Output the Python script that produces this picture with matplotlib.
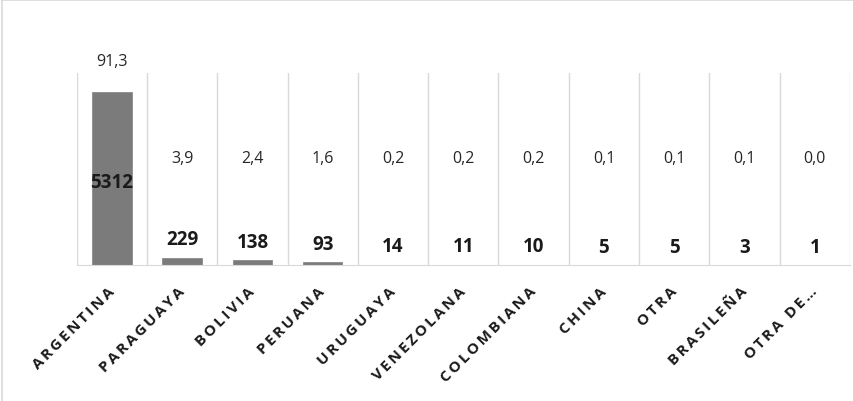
import matplotlib.pyplot as plt
import numpy as np

paises = ["ARGENTINA", "PARAGUAYA", "BOLIVIA", "PERUANA", "URUGUAYA",
          "VENEZOLANA", "COLOMBIANA", "CHINA", "OTRA", "BRASILEÑA", "OTRA DE…"]
casos = [5312, 229, 138, 93, 14, 11, 10, 5, 5, 3, 1]
porcentajes = ["91,3", "3,9", "2,4", "1,6", "0,2", "0,2", "0,2", "0,1", "0,1", "0,1", "0,0"]

plt.rcParams['font.family'] = ['Open Sans', 'DejaVu Sans']

fig = plt.figure(figsize=(8.54, 4.02), dpi=100)
ax = fig.add_axes([76.7 / 854, 1 - 266 / 402, (850 - 76.7) / 854, 192 / 402])

x = np.arange(len(paises))
ax.bar(x, casos, width=0.56, color='#7b7b7b', edgecolor='#8a8a8a', linewidth=0.6, zorder=2)
ax.set_xlim(-0.5, len(paises) - 0.5)
ax.set_ylim(0, 5880)

# separadores verticales entre categorias
for xv in np.arange(-0.5, len(paises), 1.0):
    ax.axvline(xv, color='#d9d9d9', lw=1.0, zorder=1)
for s in ['top', 'right', 'left']:
    ax.spines[s].set_visible(False)
ax.spines['bottom'].set_color('#d9d9d9')
ax.set_yticks([])
ax.tick_params(axis='x', length=0, pad=17)

# etiquetas con letras espaciadas
etiquetas = ['\u2006'.join(p) for p in paises]
ax.set_xticks(x)
ax.set_xticklabels(etiquetas, rotation=45, ha='right', va='center', rotation_mode='anchor',
                   fontsize=11, fontweight='bold', color='#1a1a1a')

# cantidades
for i, v in enumerate(casos):
    if i == 0:
        ax.text(i, v / 2 - 100, str(v), ha='center', va='center', fontsize=13.5,
                fontweight='bold', color='#1a1a1a', zorder=3)
    else:
        ax.annotate(str(v), (i, v), xytext=(0, 6), textcoords='offset points',
                    ha='center', va='bottom', fontsize=13.5, fontweight='bold', color='#1a1a1a')

# porcentajes
for i, p in enumerate(porcentajes):
    yp = 1.0625 if i == 0 else 0.555
    ax.text(i, yp, p, transform=ax.get_xaxis_transform(), ha='center', va='center',
            fontsize=11.5, color='#262626')

# borde del grafico (arriba e izquierda)
fig.add_artist(plt.Line2D([2 / 854, 2 / 854], [0, 1], transform=fig.transFigure,
                          color='#d9d9d9', lw=1.2))
fig.add_artist(plt.Line2D([2 / 854, 1], [1 - 1 / 402, 1 - 1 / 402], transform=fig.transFigure,
                          color='#d9d9d9', lw=1.2))

fig.savefig('out.png', dpi=100)
